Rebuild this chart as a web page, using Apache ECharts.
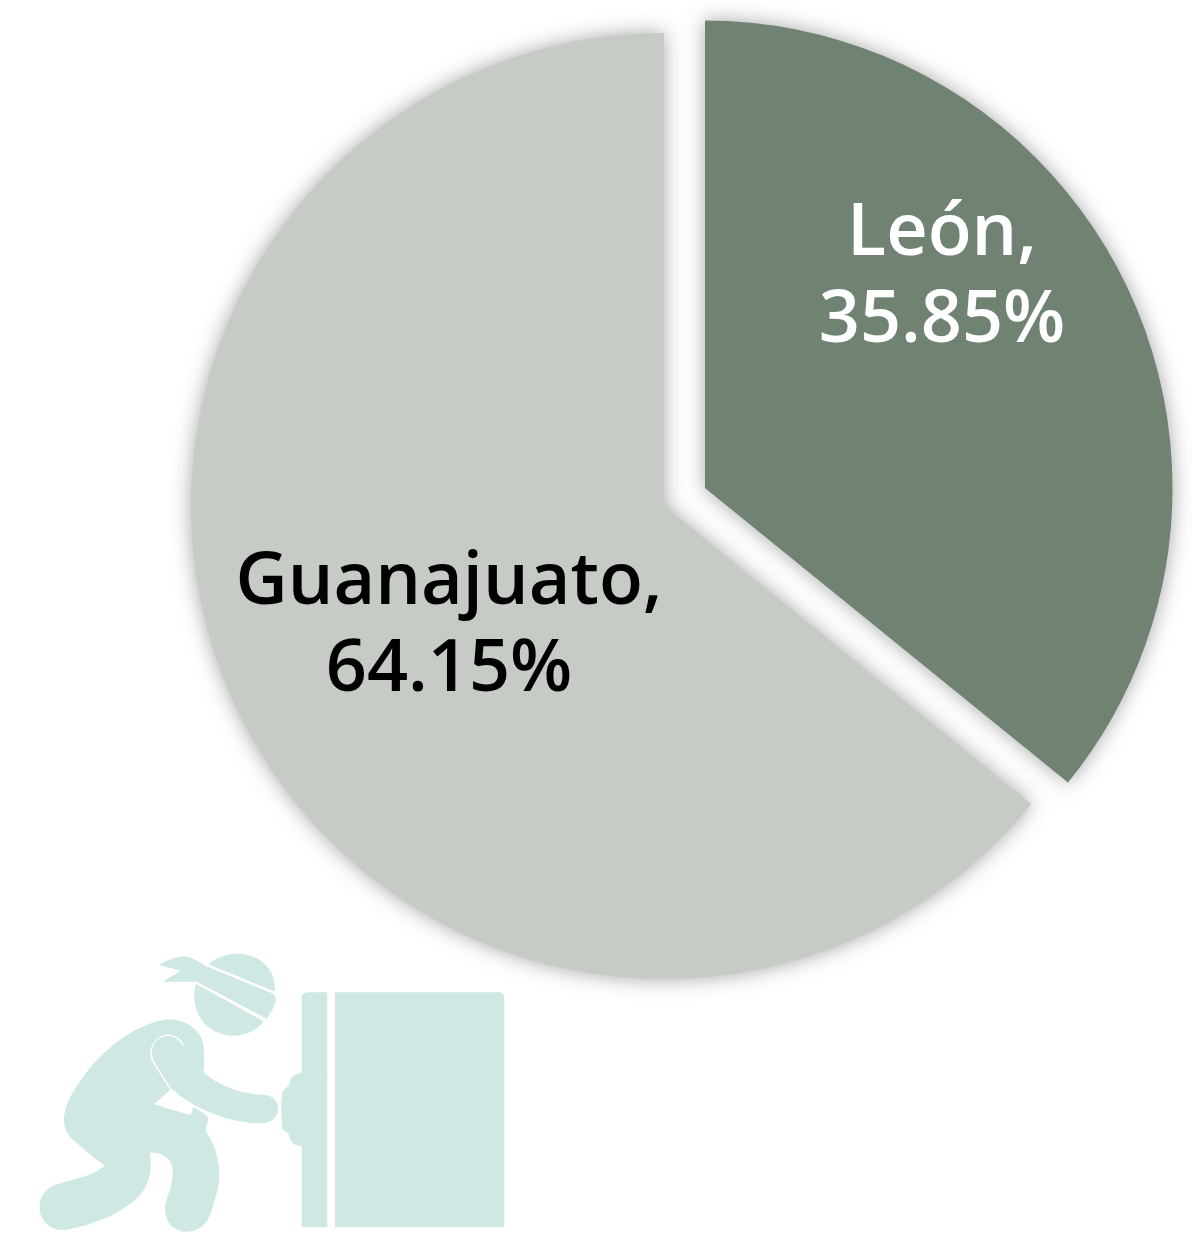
<!DOCTYPE html>
<html><head><meta charset="utf-8">
<style>html,body{margin:0;padding:0;background:#fff}#c{width:1192px;height:1242px}</style>
<script src="https://cdn.jsdelivr.net/npm/echarts@6/dist/echarts.min.js"></script>
</head><body><div id="c"></div>
<script>
const categories = ['León', 'Guanajuato'];
const shares = [35.85, 64.15];
const sliceColors = ['#708373', '#c6cbc5'];
const labelColors = ['#ffffff', '#000000'];

const iconColor = '#d0e8e4';
const iconPaths = [
  'M565,103 C620,55 720,60 755,130 C762,148 765,165 765,185 Z',
  'M527,161 L731,274 C690,325 620,330 570,295 C530,265 515,215 527,161 Z',
  'M418,105 C450,85 485,72 515,85 C535,93 548,103 558,109 L762,192 L768,208 C762,235 752,250 740,266 L530,155 L428,155 L482,122 Z',
  'M440,268 C505,268 552,305 552,360 L552,420 L452,478 L402,523 L512,556 L520,530 L560,556 C572,575 552,590 560,608 C600,665 605,740 590,790 C582,820 578,835 570,855 C540,930 435,920 435,835 C435,805 458,780 458,725 C458,685 430,668 390,668 C396,720 390,760 360,795 C310,850 220,885 135,900 C50,905 30,795 105,765 C165,745 220,740 255,706 C225,690 190,655 160,630 C130,605 125,570 140,525 C180,430 300,290 440,268 Z'
];
const armPath = 'M400,375 C388,340 420,318 445,318 C468,318 482,335 492,352 C540,440 620,490 735,495 C790,500 790,580 720,580 C620,580 510,530 450,472 Z';
const armEdge = 'M452,478 L398,392 C380,345 420,315 446,316 C470,318 482,332 490,346';
const doorPaths = [
  'M845,205 Q845,187 863,187 L922,187 L922,892 L845,892 L845,648 C825,650 808,635 806,612 L787,597 L783,530 L787,485 L808,465 C808,445 820,432 845,428 Z',
  'M945,187 L1435,187 Q1453,187 1453,205 L1453,892 L945,892 Z'
];

function sliceSeries(index, center, radius) {
  return {
    type: 'pie',
    center: center,
    radius: radius,
    startAngle: 90,
    clockwise: true,
    silent: true,
    animation: false,
    labelLine: { show: false },
    data: categories.map((name, i) => ({
      name: name,
      value: shares[i],
      itemStyle: i === index
        ? { color: sliceColors[i], shadowBlur: 20, shadowColor: 'rgba(80,80,80,0.5)' }
        : { color: 'rgba(0,0,0,0)' },
      label: i === index ? {
        show: true,
        position: 'inside',
        formatter: '{b},\n{c}%',
        color: labelColors[i],
        fontFamily: 'Open Sans',
        fontWeight: 600,
        fontSize: 72,
        lineHeight: 87
      } : { show: false }
    }))
  };
}

const chart = echarts.init(document.getElementById('c'), null, { renderer: 'canvas' });
const guan = sliceSeries(1, [664, 506], 473);
guan.labelLayout = { x: 449, y: 627, align: 'center', verticalAlign: 'middle' };
const leon = sliceSeries(0, [705, 488], 467.5);
leon.labelLayout = { x: 942, y: 278, align: 'center', verticalAlign: 'middle' };

function pathElement(name, d, style) {
  echarts.graphic.registerShape(name, echarts.graphic.extendPath(d, {}));
  return { type: name, silent: true, style: style };
}
const fillStyle = { fill: iconColor };
const icon = [];
iconPaths.forEach((d, i) => icon.push(pathElement('iconPart' + i, d, fillStyle)));
doorPaths.forEach((d, i) => icon.push(pathElement('doorPart' + i, d, fillStyle)));
icon.push(pathElement('armEdge', armEdge, { fill: 'none', stroke: '#ffffff', lineWidth: 5 }));
icon.push(pathElement('armPart', armPath, fillStyle));

chart.setOption({
  animation: false,
  backgroundColor: '#ffffff',
  series: [guan, leon],
  graphic: [{
    type: 'group', x: 20, y: 930, scaleX: 1/3, scaleY: 1/3, silent: true,
    children: icon
  }]
});
</script></body></html>
